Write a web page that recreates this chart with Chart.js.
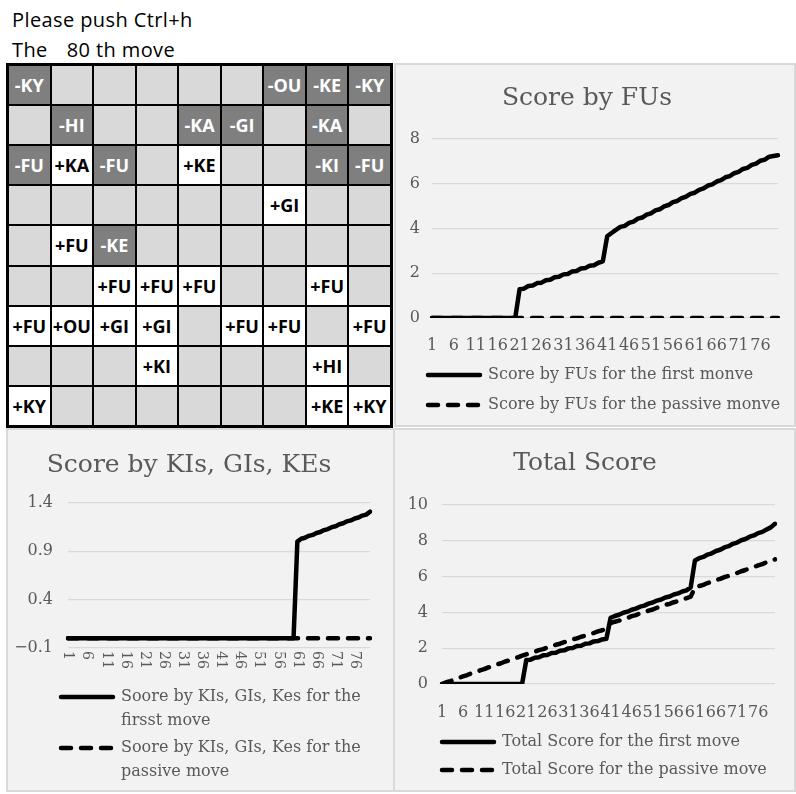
<!DOCTYPE html>
<html>
<head>
<meta charset="utf-8">
<script src="https://cdn.jsdelivr.net/npm/chart.js"></script>
<style>
  body { margin: 0; background: #fff; width: 796px; height: 794px; position: relative; overflow: hidden; font-family: "Open Sans", sans-serif; }
  .head { position: absolute; left: 12px; top: 5px; font-size: 20px; letter-spacing: 0.4px; line-height: 30px; color: #000; white-space: pre; }
  .head span { margin-left: 19px; }
  #board { position: absolute; left: 6px; top: 63px; width: 387px; height: 365px; box-sizing: border-box; background: #000; padding: 3px; display: grid; grid-template-columns: repeat(9, 1fr); grid-template-rows: repeat(9, 1fr); gap: 2px; }
  #board div { display: flex; align-items: center; justify-content: center; font-weight: bold; font-size: 18px; background: #d9d9d9; }
  #board .gote { background: #7f7f7f; color: #fff; }
  #board .sente { background: #fff; color: #000; }
  .panel { position: absolute; background: #f2f2f2; border: 2px solid #d9d9d9; box-sizing: border-box; }
  .panel canvas { position: absolute; left: 0; top: 0; }
</style>
</head>
<body>
<div class="head">Please push Ctrl+h
The<span>80 th move</span></div>
<div id="board"></div>
<div class="panel" style="left:394px; top:63px; width:402px; height:364px;"><canvas id="fuChart" width="398" height="360"></canvas></div>
<div class="panel" style="left:6px; top:428px; width:389px; height:364px;"><canvas id="kgkChart" width="385" height="360"></canvas></div>
<div class="panel" style="left:393px; top:428px; width:403px; height:364px;"><canvas id="totalChart" width="399" height="360"></canvas></div>
<script>
// board after the 80th move, top row first
const boardRows = [
  ['-KY', '', '', '', '', '', '-OU', '-KE', '-KY'],
  ['', '-HI', '', '', '-KA', '-GI', '', '-KA', ''],
  ['-FU', '+KA', '-FU', '', '+KE', '', '', '-KI', '-FU'],
  ['', '', '', '', '', '', '+GI', '', ''],
  ['', '+FU', '-KE', '', '', '', '', '', ''],
  ['', '', '+FU', '+FU', '+FU', '', '', '+FU', ''],
  ['+FU', '+OU', '+GI', '+GI', '', '+FU', '+FU', '', '+FU'],
  ['', '', '', '+KI', '', '', '', '+HI', ''],
  ['+KY', '', '', '', '', '', '', '+KE', '+KY']
];

const moves = ['1','2','3','4','5','6','7','8','9','10','11','12','13','14','15','16','17','18','19','20',
  '21','22','23','24','25','26','27','28','29','30','31','32','33','34','35','36','37','38','39','40',
  '41','42','43','44','45','46','47','48','49','50','51','52','53','54','55','56','57','58','59','60',
  '61','62','63','64','65','66','67','68','69','70','71','72','73','74','75','76','77','78','79','80'];
const labelStep = 5;

const fuFirst = [0,0,0,0,0,0,0,0,0,0,0,0,0,0,0,0,0,0,0,0,
  1.29,1.31,1.43,1.45,1.56,1.58,1.69,1.71,1.82,1.84,1.95,1.97,2.08,2.10,2.21,2.23,2.34,2.36,2.47,2.53,
  3.65,3.80,3.94,4.07,4.12,4.25,4.31,4.44,4.49,4.62,4.68,4.81,4.86,4.99,5.05,5.18,5.23,5.36,5.42,5.55,
  5.60,5.73,5.79,5.92,5.97,6.10,6.16,6.29,6.34,6.47,6.53,6.66,6.71,6.84,6.90,7.03,7.08,7.21,7.24,7.27];
const fuPassive = [0,0,0,0,0,0,0,0,0,0,0,0,0,0,0,0,0,0,0,0,
  0,0,0,0,0,0,0,0,0,0,0,0,0,0,0,0,0,0,0,0,
  0,0,0,0,0,0,0,0,0,0,0,0,0,0,0,0,0,0,0,0,
  0,0,0,0,0,0,0,0,0,0,0,0,0,0,0,0,0,0,0,0];

const kgkFirst = [0,0,0,0,0,0,0,0,0,0,0,0,0,0,0,0,0,0,0,0,
  0,0,0,0,0,0,0,0,0,0,0,0,0,0,0,0,0,0,0,0,
  0,0,0,0,0,0,0,0,0,0,0,0,0,0,0,0,0,0,0,0,
  1.00,1.03,1.04,1.06,1.07,1.09,1.10,1.12,1.13,1.15,1.16,1.18,1.19,1.21,1.22,1.24,1.25,1.27,1.28,1.31];
const kgkPassive = [0,0,0,0,0,0,0,0,0,0,0,0,0,0,0,0,0,0,0,0,
  0,0,0,0,0,0,0,0,0,0,0,0,0,0,0,0,0,0,0,0,
  0,0,0,0,0,0,0,0,0,0,0,0,0,0,0,0,0,0,0,0,
  0,0,0,0,0,0,0,0,0,0,0,0,0,0,0,0,0,0,0,0];

const totalFirst = [0,0,0,0,0,0,0,0,0,0,0,0,0,0,0,0,0,0,0,0,
  1.34,1.36,1.47,1.49,1.60,1.62,1.73,1.75,1.86,1.88,1.99,2.01,2.12,2.14,2.25,2.27,2.38,2.40,2.49,2.53,
  3.70,3.80,3.87,3.98,4.04,4.15,4.21,4.32,4.38,4.49,4.55,4.66,4.72,4.83,4.89,5.00,5.06,5.17,5.23,5.40,
  6.90,7.03,7.10,7.23,7.30,7.43,7.50,7.63,7.70,7.83,7.90,8.03,8.10,8.23,8.30,8.43,8.50,8.63,8.75,8.95];
const totalPassive = [0.00,0.10,0.16,0.27,0.33,0.43,0.50,0.60,0.66,0.76,0.83,0.93,0.99,1.09,1.16,1.26,1.32,1.42,1.49,1.58,
  1.66,1.74,1.80,1.89,1.95,2.04,2.10,2.19,2.25,2.34,2.40,2.49,2.55,2.64,2.70,2.79,2.85,2.94,3.00,3.10,
  3.40,3.48,3.54,3.63,3.69,3.79,3.85,3.95,4.01,4.10,4.16,4.26,4.32,4.42,4.48,4.57,4.63,4.73,4.79,4.88,
  5.38,5.47,5.54,5.64,5.71,5.81,5.87,5.97,6.04,6.14,6.20,6.30,6.37,6.47,6.53,6.63,6.70,6.80,6.86,6.96];

const fuTicks = [0, 2, 4, 6, 8];
const fuTickLabels = ['0', '2', '4', '6', '8'];
const kgkTicks = [-0.1, 0.4, 0.9, 1.4];
const kgkTickLabels = ['\u22120.1', '0.4', '0.9', '1.4'];
const totalTicks = [0, 2, 4, 6, 8, 10];
const totalTickLabels = ['0', '2', '4', '6', '8', '10'];

// the shogi board is plain html
const board = document.getElementById('board');
boardRows.forEach(row => row.forEach(p => {
  const cell = document.createElement('div');
  cell.textContent = p;
  if (p[0] === '-') cell.className = 'gote';
  else if (p[0] === '+') cell.className = 'sente';
  board.appendChild(cell);
}));

Chart.defaults.font.family = "'DejaVu Serif', serif";
Chart.defaults.font.size = 16;
Chart.defaults.color = '#595959';

// put the legend block where the excel chart has it
const legendPlace = {
  id: 'legendPlace',
  afterUpdate(chart, args, opts) {
    const lg = chart.legend;
    if (!lg || opts.x === undefined) return;
    const pad = lg.options.labels.padding;
    const w = lg.width;
    lg.left = opts.x - pad;
    lg.right = lg.left + w;
    lg.top = opts.y - pad - 8;
    lg.bottom = chart.height;   // legend clips to its box, keep wrapped lines
    lg.height = lg.bottom - lg.top;
  }
};

// vertical category labels that read top to bottom
const downLabels = {
  id: 'downLabels',
  afterDraw(chart, args, opts) {
    if (!opts.on) return;
    const sc = chart.scales.x, ctx = chart.ctx;
    ctx.save();
    ctx.font = "14px 'DejaVu Serif'";
    ctx.fillStyle = '#595959';
    ctx.textAlign = 'left';
    ctx.textBaseline = 'middle';
    sc.ticks.forEach((t, i) => {
      if (i % labelStep) return;
      ctx.save();
      ctx.translate(sc.getPixelForTick(i), sc.top + opts.gap);
      ctx.rotate(Math.PI / 2);
      ctx.fillText(moves[i], 0, 0);
      ctx.restore();
    });
    ctx.restore();
  }
};

function lineSet(label, data, dashed) {
  return {
    label: label, data: data,
    borderColor: '#000', backgroundColor: '#000',
    borderWidth: 4.5, borderDash: dashed ? [10, 10] : [],
    borderCapStyle: 'round', borderJoinStyle: 'round',
    pointRadius: 0, tension: 0, fill: false
  };
}

// legend samples: same stroke as the series (point style drops the dash)
function legendItems(chart) {
  return Chart.defaults.plugins.legend.labels.generateLabels(chart).map(item => {
    const ds = chart.data.datasets[item.datasetIndex];
    return Object.assign(item, {
      lineDash: ds.borderDash, lineWidth: ds.borderWidth,
      lineCap: 'round', strokeStyle: '#000', fillStyle: '#000'
    });
  });
}

function makeChart(id, title, sets, ticks, tickLabels, box) {
  return new Chart(document.getElementById(id), {
    type: 'line',
    data: { labels: moves, datasets: sets },
    options: {
      responsive: false,
      animation: false,
      devicePixelRatio: 1,
      layout: { padding: { left: 0, top: 0, right: box.right, bottom: 0 } },
      scales: {
        x: {
          grid: { display: false },
          border: { display: false },
          ticks: {
            display: !box.rotated, autoSkip: false, maxRotation: 0, minRotation: 0,
            padding: box.xPad, color: '#595959',
            callback: (v, i) => i % labelStep === 0 ? moves[i] : ''
          },
          afterFit: s => { s.height = box.xh; }
        },
        y: {
          min: ticks[0],
          max: ticks[ticks.length - 1],
          afterBuildTicks: s => { s.ticks = ticks.map(v => ({ value: v })); },
          ticks: { padding: box.yPad, color: '#595959', callback: (v, i) => tickLabels[i] },
          grid: { color: '#d9d9d9', lineWidth: 1.3, drawTicks: false },
          border: { display: false },
          afterFit: s => { s.width = box.yw; }
        }
      },
      plugins: {
        title: {
          display: true, text: title, color: '#595959',
          font: { size: 25, weight: 'normal' },
          padding: { top: box.tTop, bottom: box.tBottom }
        },
        legend: {
          position: 'bottom', align: 'start', maxHeight: box.lh,
          labels: {
            usePointStyle: true, pointStyle: 'line', pointStyleWidth: 52,
            padding: box.lPad, color: '#595959',
            font: { size: 16, lineHeight: 1.47 },
            generateLabels: legendItems
          }
        },
        tooltip: { enabled: false },
        legendPlace: { x: box.lx, y: box.ly },
        downLabels: { on: !!box.rotated, gap: 3 }
      }
    },
    plugins: [legendPlace, downLabels]
  });
}

makeChart('fuChart', 'Score by FUs', [
  lineSet('Score by FUs for the first monve', fuFirst, false),
  lineSet('Score by FUs for the passive monve', fuPassive, true)
], fuTicks, fuTickLabels,
  { right: 16, tTop: 18, tBottom: 26, yw: 36, yPad: 12, xh: 40, xPad: 10, lh: 67, lPad: 14, lx: 32, ly: 310 });

makeChart('kgkChart', 'Score by KIs, GIs, KEs', [
  lineSet(['Soore by KIs, GIs, Kes for the', 'firsst move'], kgkFirst, false),
  lineSet(['Soore by KIs, GIs, Kes for the', 'passive move'], kgkPassive, true)
], kgkTicks, kgkTickLabels,
  { right: 23, tTop: 20, tBottom: 23, yw: 60, yPad: 15, xh: 40, xPad: 10, lh: 102, lPad: 35, lx: 53, ly: 267, rotated: true });

makeChart('totalChart', 'Total Score', [
  lineSet('Total Score for the first move', totalFirst, false),
  lineSet('Total Score for the passive move', totalPassive, true)
], totalTicks, totalTickLabels,
  { right: 19, tTop: 18, tBottom: 27, yw: 47, yPad: 14, xh: 40, xPad: 11, lh: 66, lPad: 12, lx: 47, ly: 312 });
</script>
</body>
</html>
